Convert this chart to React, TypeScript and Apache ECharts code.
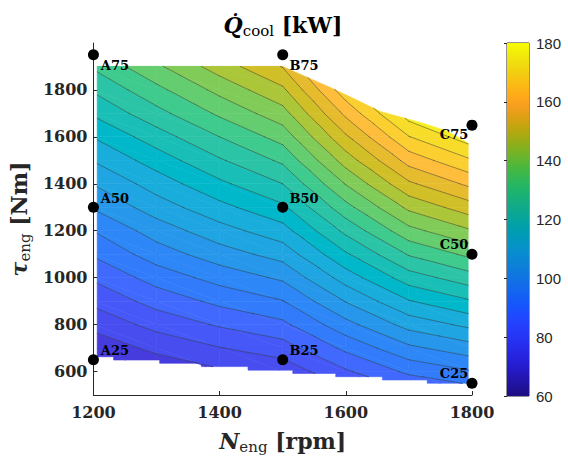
import React, { useEffect, useRef } from 'react';
import * as echarts from 'echarts';

// ---------------- data ----------------
const speedNodes = [1200, 1300, 1400, 1500, 1600, 1700, 1800];
const torqueNodes = [500, 600, 700, 800, 900, 1000, 1100, 1200, 1300, 1400, 1500, 1600, 1700, 1800, 1900, 2000];
// rows follow torqueNodes, columns follow speedNodes (kW)
const qCool = [
  [62.0, 65.6, 68.4, 70.6, 77.2, 83.2, 86.4],
  [67.0, 71.1, 74.2, 76.7, 84.3, 91.1, 94.7],
  [71.6, 76.3, 79.8, 82.7, 91.2, 98.9, 103.0],
  [76.5, 81.7, 85.6, 88.8, 98.3, 106.9, 111.4],
  [81.2, 86.9, 91.3, 94.8, 105.3, 114.7, 119.7],
  [85.7, 92.1, 96.9, 100.9, 112.3, 122.6, 128.0],
  [90.6, 97.5, 102.7, 107.0, 119.3, 130.5, 136.4],
  [95.1, 102.3, 108.0, 113.0, 126.3, 138.4, 144.7],
  [100.5, 107.5, 113.5, 119.0, 133.3, 146.2, 153.0],
  [105.2, 112.3, 118.9, 125.0, 140.3, 154.1, 161.4],
  [110.3, 117.3, 124.4, 131.0, 147.3, 162.0, 169.7],
  [115.2, 122.6, 130.0, 137.0, 154.2, 169.8, 178.0],
  [120.7, 128.3, 135.9, 143.0, 161.2, 177.6, 186.3],
  [125.6, 133.6, 141.5, 149.0, 168.2, 185.5, 194.6],
  [130.7, 139.1, 147.4, 155.3, 175.3, 193.5, 203.0],
  [135.5, 144.2, 152.8, 161.0, 182.0, 201.0, 211.0],
];
// outline of the region where the map has data (speed rpm, torque Nm)
const domainSpeed = [1206, 1232, 1232, 1305, 1305, 1371, 1371, 1445, 1445, 1516, 1516, 1584, 1584, 1658, 1658, 1729, 1729, 1794, 1794, 1760, 1720, 1655, 1580, 1500, 1206];
const domainTorque = [663, 663, 649, 649, 635, 635, 621, 621, 606, 606, 592, 592, 578, 578, 564, 564, 550, 550, 1573, 1625, 1660, 1708, 1805, 1900, 1900];
const contourLevels = [60, 65, 70, 75, 80, 85, 90, 95, 100, 105, 110, 115, 120, 125, 130, 135, 140, 145, 150, 155, 160, 165, 170, 175, 180];

const pointNames = ['A25', 'A50', 'A75', 'B25', 'B50', 'B75', 'C25', 'C50', 'C75'];
const pointSpeed = [1200, 1200, 1200, 1500, 1500, 1500, 1800, 1800, 1800];
const pointTorque = [650, 1300, 1950, 650, 1300, 1950, 550, 1100, 1650];

const yTickValues = [600, 800, 1000, 1200, 1400, 1600, 1800];

// ---------------- colormap (MATLAB parula) ----------------
const PARULA: number[][] = [
  [0.2422, 0.1504, 0.6603], [0.2504, 0.165, 0.7076], [0.2578, 0.1818, 0.7511], [0.2647, 0.1978, 0.7952],
  [0.2706, 0.2147, 0.8364], [0.2751, 0.2342, 0.871], [0.2783, 0.2559, 0.8991], [0.2803, 0.2782, 0.9221],
  [0.2813, 0.3006, 0.9414], [0.281, 0.3228, 0.9579], [0.2795, 0.3447, 0.9717], [0.276, 0.3667, 0.9829],
  [0.2699, 0.3892, 0.9906], [0.2602, 0.4123, 0.9952], [0.244, 0.4358, 0.9988], [0.2206, 0.4603, 0.9973],
  [0.1963, 0.4847, 0.9892], [0.1834, 0.5074, 0.9798], [0.1786, 0.5289, 0.9682], [0.1764, 0.5499, 0.952],
  [0.1687, 0.5703, 0.9359], [0.154, 0.5902, 0.9218], [0.146, 0.6091, 0.9079], [0.138, 0.6276, 0.8973],
  [0.1248, 0.6459, 0.8883], [0.1113, 0.6635, 0.8763], [0.0952, 0.6798, 0.8598], [0.0689, 0.6948, 0.8394],
  [0.0297, 0.7082, 0.8163], [0.0036, 0.7203, 0.7917], [0.0067, 0.7312, 0.766], [0.0433, 0.7411, 0.7394],
  [0.0964, 0.75, 0.712], [0.1408, 0.7584, 0.6842], [0.1717, 0.767, 0.6554], [0.1938, 0.7758, 0.6251],
  [0.2161, 0.7843, 0.5923], [0.247, 0.7918, 0.5567], [0.2906, 0.7973, 0.5188], [0.3406, 0.8008, 0.4789],
  [0.3909, 0.8029, 0.4354], [0.4456, 0.8024, 0.3909], [0.5044, 0.7993, 0.348], [0.5616, 0.7942, 0.3045],
  [0.6174, 0.7876, 0.2612], [0.672, 0.7793, 0.2227], [0.7242, 0.7698, 0.191], [0.7738, 0.7598, 0.1646],
  [0.8203, 0.7498, 0.1535], [0.8634, 0.7406, 0.1596], [0.9035, 0.733, 0.1774], [0.9393, 0.7288, 0.21],
  [0.9728, 0.7298, 0.2394], [0.9956, 0.7434, 0.2371], [0.997, 0.7659, 0.2199], [0.9952, 0.7893, 0.2028],
  [0.9892, 0.8136, 0.1885], [0.9786, 0.8386, 0.1766], [0.9676, 0.8639, 0.1643], [0.961, 0.889, 0.1537],
  [0.9597, 0.9135, 0.1423], [0.9628, 0.9373, 0.1265], [0.9691, 0.9606, 0.1064], [0.9769, 0.9839, 0.0805],
];
const C_MIN = 60;
const C_MAX = 180;
const rgb = (c: number[], gamma = 1) =>
  `rgb(${Math.round(Math.pow(c[0], gamma) * 255)},${Math.round(Math.pow(c[1], gamma) * 255)},${Math.round(Math.pow(c[2], gamma) * 255)})`;
function colorOf(v: number) {
  const t = (v - C_MIN) / (C_MAX - C_MIN);
  const idx = Math.max(0, Math.min(PARULA.length - 1, Math.floor(t * PARULA.length)));
  return rgb(PARULA[idx]);
}

// ---------------- filled contour geometry ----------------
type P = { x: number; y: number; q: number };

function clip(poly: P[], f: (p: P) => number): P[] {
  const out: P[] = [];
  const n = poly.length;
  for (let i = 0; i < n; i++) {
    const a = poly[i];
    const b = poly[(i + 1) % n];
    const fa = f(a);
    const fb = f(b);
    if (fa >= 0) out.push(a);
    if ((fa >= 0) !== (fb >= 0)) {
      const t = fa / (fa - fb);
      out.push({ x: a.x + t * (b.x - a.x), y: a.y + t * (b.y - a.y), q: a.q + t * (b.q - a.q) });
    }
  }
  return out;
}

function planeOf(a: P, b: P, c: P) {
  const dxb = b.x - a.x, dyb = b.y - a.y, dqb = b.q - a.q;
  const dxc = c.x - a.x, dyc = c.y - a.y, dqc = c.q - a.q;
  const det = dxb * dyc - dyb * dxc;
  const A = (dqb * dyc - dyb * dqc) / det;
  const B = (dxb * dqc - dqb * dxc) / det;
  return (x: number, y: number) => a.q + A * (x - a.x) + B * (y - a.y);
}

function buildContours() {
  const domain: P[] = domainSpeed.map((x, i) => ({ x, y: domainTorque[i], q: 0 }));
  const fills: { pts: number[][]; color: string }[] = [];
  const lines: number[][][] = [];
  const node = (i: number, j: number): P => ({ x: speedNodes[i], y: torqueNodes[j], q: qCool[j][i] });
  for (let j = 0; j < torqueNodes.length - 1; j++) {
    for (let i = 0; i < speedNodes.length - 1; i++) {
      const p00 = node(i, j), p10 = node(i + 1, j), p01 = node(i, j + 1), p11 = node(i + 1, j + 1);
      const tris = [[p00, p10, p01], [p10, p11, p01]];
      for (const tri of tris) {
        let poly = domain;
        for (let e = 0; e < 3 && poly.length >= 3; e++) {
          const a = tri[e], b = tri[(e + 1) % 3];
          poly = clip(poly, (p) => (b.x - a.x) * (p.y - a.y) - (b.y - a.y) * (p.x - a.x));
        }
        if (poly.length < 3) continue;
        const qf = planeOf(tri[0], tri[1], tri[2]);
        poly = poly.map((p) => ({ x: p.x, y: p.y, q: qf(p.x, p.y) }));
        let qmin = Infinity, qmax = -Infinity;
        for (const p of poly) { qmin = Math.min(qmin, p.q); qmax = Math.max(qmax, p.q); }
        for (let k = -1; k < contourLevels.length; k++) {
          const lo = k < 0 ? -Infinity : contourLevels[k];
          const hi = k + 1 < contourLevels.length ? contourLevels[k + 1] : Infinity;
          if (hi <= qmin || lo >= qmax) continue;
          let piece = poly;
          if (lo > qmin) piece = clip(piece, (p) => p.q - lo);
          if (piece.length >= 3 && hi < qmax) piece = clip(piece, (p) => hi - p.q);
          if (piece.length >= 3) {
            fills.push({ pts: piece.map((p) => [p.x, p.y]), color: colorOf(k < 0 ? contourLevels[0] : contourLevels[k]) });
          }
        }
        for (const L of contourLevels) {
          if (!(L > qmin && L < qmax)) continue;
          const cross: number[][] = [];
          for (let m = 0; m < poly.length; m++) {
            const a = poly[m], b = poly[(m + 1) % poly.length];
            const da = a.q - L, db = b.q - L;
            if ((da < 0) !== (db < 0)) {
              const t = da / (da - db);
              cross.push([a.x + t * (b.x - a.x), a.y + t * (b.y - a.y)]);
            }
          }
          if (cross.length < 2) continue;
          const ux = cross[1][0] - cross[0][0], uy = cross[1][1] - cross[0][1];
          cross.sort((p, r) => (p[0] * ux + p[1] * uy) - (r[0] * ux + r[1] * uy));
          for (let m = 0; m + 1 < cross.length; m += 2) lines.push([cross[m], cross[m + 1]]);
        }
      }
    }
  }
  return { fills, lines };
}

// ---------------- option ----------------
const SERIF = '"DejaVu Serif", serif';
const SANS = '"Liberation Sans", Arial, sans-serif';
const AX = '#262626';

const labelPlacement: Record<string, { position: number[]; align: string }> = {
  A75: { position: [12.9, 15.8], align: 'left' },
  B75: { position: [12.2, 15.8], align: 'left' },
  A50: { position: [12.9, -3.5], align: 'left' },
  B50: { position: [12.2, -3.5], align: 'left' },
  A25: { position: [12.9, -3.5], align: 'left' },
  B25: { position: [12.2, -3.5], align: 'left' },
  C75: { position: [1.8, 14.8], align: 'right' },
  C50: { position: [1.8, -3.8], align: 'right' },
  C25: { position: [1.8, -4.5], align: 'right' },
};

function buildOption() {
  const { fills, lines } = buildContours();
  // the reference colour bar is rendered noticeably darker than the filled contours
  const stops = PARULA.map((c, i) => ({ offset: (i + 0.5) / PARULA.length, color: rgb(c, 1.5) }));
  const bigRich = (italic: boolean) => ({
    fontFamily: SERIF, fontWeight: 'bold', fontStyle: italic ? 'italic' : 'normal', fontSize: 22, lineHeight: 26, color: AX,
  });
  const subRich = { fontFamily: SERIF, fontWeight: 'normal', fontSize: 15, lineHeight: 12, verticalAlign: 'bottom', color: AX };
  const plain = (v: number) => String(v);
  return {
    animation: false,
    title: {
      text: '{q|Q\u0307}{s|cool}{b| [kW]}',
      left: 283,
      top: 12,
      padding: 0,
      textAlign: 'center',
      textStyle: { rich: { q: { ...bigRich(true), color: '#000' }, s: { ...subRich, color: '#000' }, b: { ...bigRich(false), color: '#000' } } },
    },
    grid: [
      { left: 93, top: 43, width: 379, height: 352 },
      { left: 507, top: 43, width: 22, height: 353, show: true, borderColor: AX, borderWidth: 1, backgroundColor: 'transparent' },
    ],
    xAxis: [
      {
        type: 'value', gridIndex: 0, min: 1200, max: 1800, interval: 200,
        name: '{i|N}{s|eng}{b| [rpm]}', nameLocation: 'middle', nameGap: 33,
        nameTextStyle: { rich: { i: bigRich(true), s: subRich, b: bigRich(false) } },
        axisLine: { show: true, lineStyle: { color: AX, width: 1 } },
        axisTick: { show: true, inside: true, length: 4, lineStyle: { color: AX } },
        axisLabel: { margin: 9, fontFamily: SERIF, fontWeight: 'bold', fontSize: 16, color: AX, formatter: plain },
        splitLine: { show: false },
      },
      { type: 'value', gridIndex: 1, min: 0, max: 1, show: false },
    ],
    yAxis: [
      {
        type: 'value', gridIndex: 0, min: 500, max: 2000,
        name: '{i|\u03c4}{s|eng}{b| [Nm]}', nameLocation: 'middle', nameGap: 55, nameRotate: 90,
        nameTextStyle: { rich: { i: bigRich(true), s: subRich, b: bigRich(false) } },
        axisLine: { show: true, lineStyle: { color: AX, width: 1 } },
        axisTick: { show: true, inside: true, length: 4, lineStyle: { color: AX }, customValues: yTickValues },
        axisLabel: { margin: 6, fontFamily: SERIF, fontWeight: 'bold', fontSize: 16, color: AX, customValues: yTickValues, formatter: plain },
        splitLine: { show: false },
      },
      {
        type: 'value', gridIndex: 1, min: 60, max: 180, interval: 20, position: 'right',
        axisLine: { show: false },
        axisTick: { show: true, inside: true, length: 3, lineStyle: { color: AX } },
        axisLabel: { margin: 7, fontFamily: SANS, fontSize: 15, color: AX, formatter: plain },
        splitLine: { show: false },
      },
    ],
    series: [
      {
        type: 'custom', xAxisIndex: 0, yAxisIndex: 0, clip: false, silent: true, z: 1,
        data: fills.map((f) => f.pts[0]),
        encode: { x: 0, y: 1 },
        renderItem: (params: any, api: any) => {
          const f = fills[params.dataIndex];
          return {
            type: 'polygon',
            shape: { points: f.pts.map((p) => api.coord(p)) },
            style: { fill: f.color, stroke: f.color, lineWidth: 0.6, lineJoin: 'round' },
          };
        },
      },
      {
        type: 'custom', xAxisIndex: 0, yAxisIndex: 0, clip: false, silent: true, z: 2,
        data: lines.map((s) => s[0]),
        encode: { x: 0, y: 1 },
        renderItem: (params: any, api: any) => {
          const s = lines[params.dataIndex];
          const a = api.coord(s[0]);
          const b = api.coord(s[1]);
          return {
            type: 'line',
            shape: { x1: a[0], y1: a[1], x2: b[0], y2: b[1] },
            style: { stroke: 'rgba(45,45,45,0.8)', lineWidth: 0.6, lineCap: 'round' },
          };
        },
      },
      {
        type: 'scatter', xAxisIndex: 0, yAxisIndex: 0, clip: false, z: 5,
        symbol: 'circle', symbolSize: 11,
        itemStyle: { color: '#000', opacity: 1 },
        data: pointNames.map((name, i) => ({
          name,
          value: [pointSpeed[i], pointTorque[i]],
          label: {
            show: true, formatter: name, position: labelPlacement[name].position, align: labelPlacement[name].align,
            verticalAlign: 'middle', fontFamily: SERIF, fontWeight: 'bold', fontSize: 13, color: '#000',
          },
        })),
      },
      {
        type: 'custom', xAxisIndex: 1, yAxisIndex: 1, silent: true, z: 1,
        data: [[0, C_MIN]],
        renderItem: (params: any, api: any) => {
          const top = api.coord([0, C_MAX]);
          const bot = api.coord([1, C_MIN]);
          return {
            type: 'rect',
            shape: { x: top[0], y: top[1], width: bot[0] - top[0], height: bot[1] - top[1] },
            style: { fill: new echarts.graphic.LinearGradient(0, 1, 0, 0, stops) },
          };
        },
      },
    ],
  };
}

export default function App() {
  const ref = useRef<HTMLDivElement>(null);
  useEffect(() => {
    if (!ref.current) return;
    const chart = echarts.init(ref.current, undefined, { renderer: 'svg' });
    chart.setOption(buildOption() as any);
    return () => chart.dispose();
  }, []);
  return <div ref={ref} style={{ position: 'absolute', left: 0, top: 0, width: 568, height: 460 }} />;
}
